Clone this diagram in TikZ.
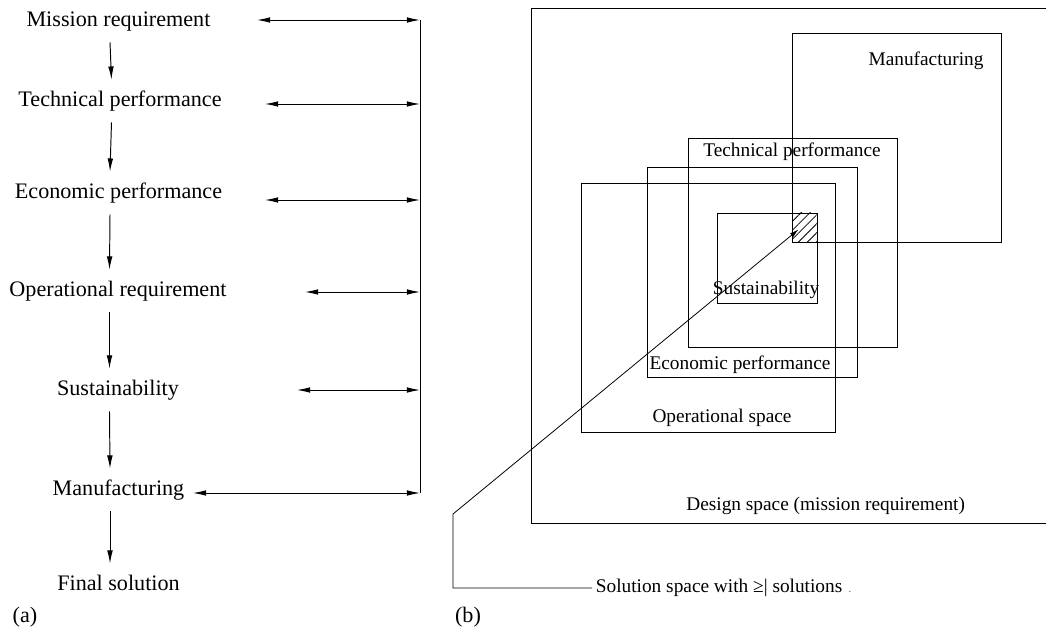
\documentclass[tikz,border=0pt]{standalone}
\usepackage{fontspec}
\setmainfont{Liberation Serif}
\usetikzlibrary{arrows.meta, patterns.meta, positioning}

\begin{document}
\begin{tikzpicture}[
    stage/.style={font=\fontsize{12.6}{15}\selectfont, inner sep=0pt, text height=8.5pt, text depth=2.5pt, minimum height=0.84cm},
    tag/.style={font=\fontsize{11}{13}\selectfont, inner sep=0pt, text height=7.5pt, text depth=2.2pt},
    down/.style={-{Latex[length=7.5pt,width=3.2pt]}, line width=0.55pt},
    both/.style={{Latex[length=7.5pt,width=3.2pt]}-{Latex[length=7.5pt,width=3.2pt]}, line width=0.55pt},
    zone/.style={draw, line width=0.5pt},
    lead/.style={-{Latex[length=5pt,width=2.8pt]}, line width=0.45pt}
  ]
    \useasboundingbox (0,0) rectangle (20.92,12.58);

    % (a) chain of requirements
    \node[stage] (mission) at (2.37,12.16) {Mission requirement};
    \node[stage] (technical) at (2.40,10.56) {Technical performance};
    \node[stage] (economic) at (2.37,8.72) {Economic performance};
    \node[stage] (operational) at (2.36,6.76) {Operational requirement};
    \node[stage] (sustain) at (2.36,4.78) {Sustainability};
    \node[stage] (manuf) at (2.37,2.78) {Manufacturing};
    \node[stage] (final) at (2.37,0.88) {Final solution};
    \node[stage] (parta) at (0.50,0.24) {(a)};

    \foreach \a/\b in {mission/technical, technical/economic, economic/operational, operational/sustain, sustain/manuf, manuf/final}
      \draw[down] ([xshift=-0.17cm]\a.south) -- ([xshift=-0.17cm]\b.north);

    % feedback bar
    \coordinate (bartop) at (8.40,12.18);
    \coordinate (barbot) at (8.40,2.72);
    \draw[line width=0.55pt] (bartop) -- (barbot);
    \foreach \n/\x/\y in {mission/5.14/12.18, technical/5.30/10.50, economic/5.30/8.58, operational/6.10/6.74, sustain/5.94/4.78, manuf/3.86/2.72} {
      \coordinate (\n-l) at (\x,\y);
      \coordinate (\n-r) at (8.40,\y);
      \draw[both] (\n-l) -- (\n-r);
    }

    % (b) nested spaces
    \draw[zone] (20.92,12.42) -| (10.62,2.12) -- (20.92,2.12);
    \draw[zone] (15.84,11.92) rectangle (20.02,7.74);
    \draw[zone] (13.76,9.82) rectangle (17.94,5.64);
    \draw[zone] (12.94,9.24) rectangle (17.14,5.04);
    \draw[zone] (11.62,8.92) rectangle (16.70,3.94);
    \draw[zone] (14.34,8.32) rectangle (16.34,6.52);
    \fill[pattern={Lines[angle=45, distance=3.6pt, line width=0.45pt]}] (15.84,8.32) rectangle (16.34,7.74);
    \coordinate (hatch) at (15.97,7.99);

    \node[tag] (manuf-s) at (18.52,11.36) {Manufacturing};
    \node[tag] (technical-s) at (15.84,9.54) {Technical performance};
    \node[tag] (economic-s) at (14.80,5.28) {Economic performance};
    \node[tag] (operational-s) at (14.44,4.22) {Operational space};
    \node[tag] (sustain-s) at (15.32,6.78) {Sustainability};
    \node[tag, anchor=west] (design-s) at (13.72,2.46) {Design space (mission requirement)};
    \node[tag, anchor=west, inner xsep=2pt] (solution) at (11.84,0.82) {Solution space with ≥| solutions\,\,{\tiny .}};
    \node[stage] (partb) at (9.36,0.24) {(b)};

    \coordinate (bend) at (9.06,2.30);
    \draw[lead] (solution.west) -| (bend) -- (hatch);
  \end{tikzpicture}
\end{document}
